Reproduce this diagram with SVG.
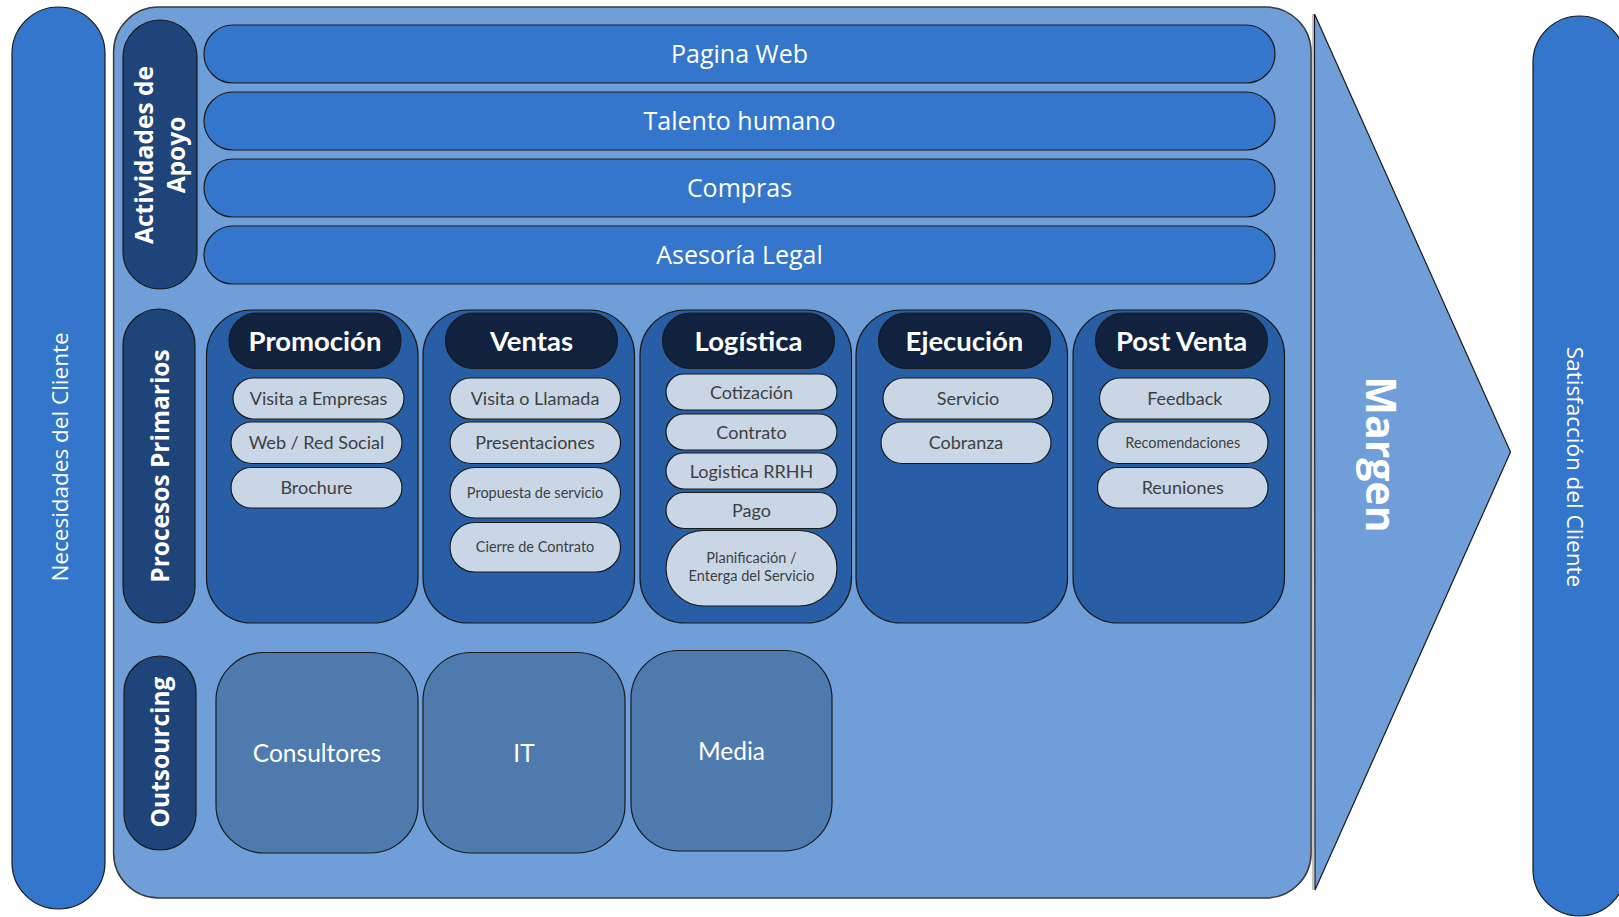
<svg xmlns="http://www.w3.org/2000/svg" width="1619" height="917" viewBox="0 0 1619 917">
  <style>
    .side { fill: #3476CC; stroke: #1a1a1a; stroke-width: 1.2; }
    .frame { fill: #709ED8; stroke: #3a3a3a; stroke-width: 1.5; }
    .support { fill: #3476CC; stroke: #1a1a1a; stroke-width: 1.2; }
    .tag { fill: #1F447A; stroke: #1a1a1a; stroke-width: 1.2; }
    .col { fill: #285EA6; stroke: #1a1a1a; stroke-width: 1.2; }
    .head { fill: #10223E; stroke: #1a1a1a; stroke-width: 1.2; }
    .item { fill: #C8D6E6; stroke: #1a1a1a; stroke-width: 1.2; }
    .out { fill: #4F7AAD; stroke: #1a1a1a; stroke-width: 1.2; }
    .arrow { fill: #709ED8; stroke: #1a1a1a; stroke-width: 1.2; }
    .edge { stroke: #8a8a8a; stroke-width: 1; fill: none; }
    text { text-anchor: middle; }
    .t-side { font-family: "Open Sans", "DejaVu Sans", sans-serif; font-size: 22.5px; fill: #ffffff; }
    .t-support { font-family: "Open Sans", "DejaVu Sans", sans-serif; font-size: 25px; fill: #ffffff; }
    .t-tag { font-family: "Open Sans", "DejaVu Sans", sans-serif; font-size: 24.5px; font-weight: bold; fill: #ffffff; }
    .t-margin { font-family: "Open Sans", "DejaVu Sans", sans-serif; font-size: 41px; font-weight: bold; fill: #ffffff; }
    .t-head { font-family: Lato, "Liberation Sans", sans-serif; font-size: 27.5px; font-weight: bold; fill: #ffffff; }
    .t-item { font-family: Lato, "Liberation Sans", sans-serif; font-size: 18px; fill: #3f3f3f; }
    .t-small { font-family: Lato, "Liberation Sans", sans-serif; font-size: 14.5px; fill: #3f3f3f; }
    .t-out { font-family: Lato, "Liberation Sans", sans-serif; font-size: 24.5px; fill: #ffffff; }
  </style>

  <!-- customer needs (input side) -->
  <g id="necesidades">
    <rect class="side" x="12" y="7" width="93" height="902" rx="46.5"/>
    <text class="t-side" transform="translate(68,457) rotate(-90)">Necesidades del Cliente</text>
  </g>

  <!-- customer satisfaction (output side) -->
  <g id="satisfaccion">
    <rect class="side" x="1533" y="16" width="93" height="900" rx="46.5"/>
    <text class="t-side" transform="translate(1567,467) rotate(90)">Satisfacción del Cliente</text>
  </g>

  <!-- margin chevron -->
  <g id="margen">
    <polygon class="arrow" points="1314.5,14 1510.5,452 1315,890"/>
    <line class="edge" x1="1313" y1="14" x2="1313" y2="890"/>
    <text class="t-margin" transform="translate(1366,454.5) rotate(90)">Margen</text>
  </g>

  <!-- value chain frame -->
  <g id="cadena">
    <rect class="frame" x="113.6" y="7" width="1197.5" height="891" rx="45"/>
  </g>

  <!-- support activities -->
  <g id="actividades-apoyo">
    <rect class="tag" x="123" y="20" width="74" height="269" rx="37"/>
    <text class="t-tag" transform="translate(153,155) rotate(-90)">Actividades de</text>
    <text class="t-tag" transform="translate(185,155) rotate(-90)">Apoyo</text>
  </g>
  <g id="pagina-web">
    <rect class="support" x="204" y="25" width="1071" height="58" rx="29"/>
    <text class="t-support" x="739.5" y="63">Pagina Web</text>
  </g>
  <g id="talento-humano">
    <rect class="support" x="204" y="92" width="1071" height="58" rx="29"/>
    <text class="t-support" x="739.5" y="130">Talento humano</text>
  </g>
  <g id="compras">
    <rect class="support" x="204" y="159" width="1071" height="58" rx="29"/>
    <text class="t-support" x="739.5" y="197">Compras</text>
  </g>
  <g id="asesoria-legal">
    <rect class="support" x="204" y="226" width="1071" height="58" rx="29"/>
    <text class="t-support" x="739.5" y="264">Asesoría Legal</text>
  </g>

  <!-- primary processes -->
  <g id="procesos-primarios">
    <rect class="tag" x="123" y="309" width="72" height="314" rx="36"/>
    <text class="t-tag" transform="translate(169,466) rotate(-90)">Procesos Primarios</text>
  </g>

  <g id="promocion">
    <rect class="col" x="206.5" y="310" width="211.5" height="313" rx="45"/>
    <rect class="head" x="229" y="313" width="172" height="55.5" rx="27.75"/>
    <text class="t-head" x="315" y="351">Promoción</text>
    <rect class="item" x="233" y="378" width="171" height="41" rx="20.5"/>
    <text class="t-item" x="318.5" y="405">Visita a Empresas</text>
    <rect class="item" x="231" y="422" width="171" height="41.5" rx="20.75"/>
    <text class="t-item" x="316.5" y="449">Web / Red Social</text>
    <rect class="item" x="231" y="467.5" width="171" height="40.5" rx="20.25"/>
    <text class="t-item" x="316.5" y="494">Brochure</text>
  </g>

  <g id="ventas">
    <rect class="col" x="423" y="310" width="211.5" height="313" rx="45"/>
    <rect class="head" x="445.5" y="313" width="172" height="55.5" rx="27.75"/>
    <text class="t-head" x="531.5" y="351">Ventas</text>
    <rect class="item" x="450" y="378" width="170.5" height="41" rx="20.5"/>
    <text class="t-item" x="535" y="405">Visita o Llamada</text>
    <rect class="item" x="450" y="422" width="170.5" height="41.5" rx="20.75"/>
    <text class="t-item" x="535" y="449">Presentaciones</text>
    <rect class="item" x="450" y="467.5" width="170.5" height="50.5" rx="25"/>
    <text class="t-small" x="535" y="498">Propuesta de servicio</text>
    <rect class="item" x="450" y="522.5" width="170.5" height="49.5" rx="24.75"/>
    <text class="t-small" x="535" y="552">Cierre de Contrato</text>
  </g>

  <g id="logistica">
    <rect class="col" x="640" y="310" width="211.5" height="313" rx="45"/>
    <rect class="head" x="662.5" y="313" width="172" height="55.5" rx="27.75"/>
    <text class="t-head" x="748.5" y="351">Logística</text>
    <rect class="item" x="666" y="374" width="171" height="36" rx="18"/>
    <text class="t-item" x="751.5" y="398.5">Cotización</text>
    <rect class="item" x="666" y="414" width="171" height="36" rx="18"/>
    <text class="t-item" x="751.5" y="438.5">Contrato</text>
    <rect class="item" x="666" y="453" width="171" height="36" rx="18"/>
    <text class="t-item" x="751.5" y="477.5">Logistica RRHH</text>
    <rect class="item" x="666" y="492.5" width="171" height="36" rx="18"/>
    <text class="t-item" x="751.5" y="517">Pago</text>
    <rect class="item" x="666" y="530.5" width="171" height="75.5" rx="37.75"/>
    <text class="t-small" x="751.5" y="562.5">Planificación /</text>
    <text class="t-small" x="751.5" y="581">Enterga del Servicio</text>
  </g>

  <g id="ejecucion">
    <rect class="col" x="856" y="310" width="211.5" height="313" rx="45"/>
    <rect class="head" x="878.5" y="313" width="172" height="55.5" rx="27.75"/>
    <text class="t-head" x="964.5" y="351">Ejecución</text>
    <rect class="item" x="883" y="378" width="170" height="41" rx="20.5"/>
    <text class="t-item" x="968" y="405">Servicio</text>
    <rect class="item" x="881" y="422" width="170" height="41.5" rx="20.75"/>
    <text class="t-item" x="966" y="449">Cobranza</text>
  </g>

  <g id="post-venta">
    <rect class="col" x="1073" y="310" width="211.5" height="313" rx="45"/>
    <rect class="head" x="1095.5" y="313" width="172" height="55.5" rx="27.75"/>
    <text class="t-head" x="1181.5" y="351">Post Venta</text>
    <rect class="item" x="1099.5" y="378" width="170.5" height="41" rx="20.5"/>
    <text class="t-item" x="1184.75" y="405">Feedback</text>
    <rect class="item" x="1097.5" y="422" width="170.5" height="41.5" rx="20.75"/>
    <text class="t-small" x="1182.75" y="448">Recomendaciones</text>
    <rect class="item" x="1097.5" y="467.5" width="170.5" height="40.5" rx="20.25"/>
    <text class="t-item" x="1182.75" y="494">Reuniones</text>
  </g>

  <!-- outsourcing -->
  <g id="outsourcing">
    <rect class="tag" x="124" y="656" width="72" height="194" rx="36"/>
    <text class="t-tag" transform="translate(169,752) rotate(-90)">Outsourcing</text>
  </g>
  <g id="consultores">
    <rect class="out" x="216" y="652.5" width="202" height="200.5" rx="48"/>
    <text class="t-out" x="317" y="761.5">Consultores</text>
  </g>
  <g id="it">
    <rect class="out" x="423" y="652.5" width="202" height="200.5" rx="48"/>
    <text class="t-out" x="524" y="761.5">IT</text>
  </g>
  <g id="media">
    <rect class="out" x="631" y="650.5" width="201" height="200.5" rx="48"/>
    <text class="t-out" x="731.5" y="759.5">Media</text>
  </g>

  <g id="connectors"/>
</svg>
